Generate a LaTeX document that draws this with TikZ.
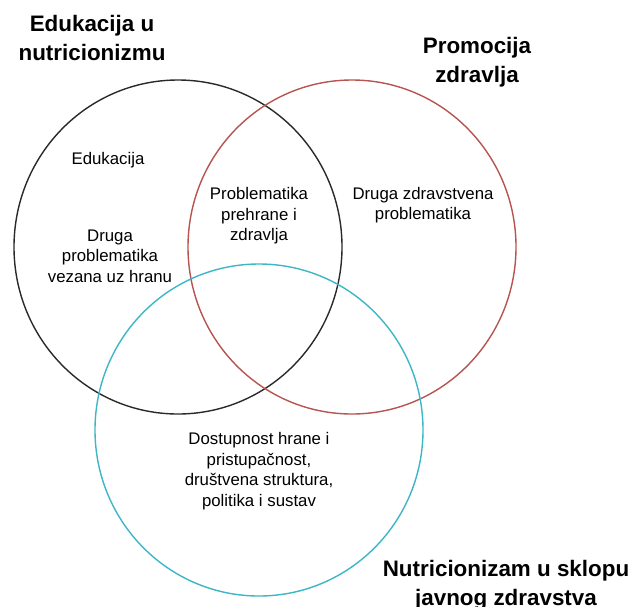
\documentclass[tikz,border=0pt]{standalone}
\usepackage{fontspec}
\setmainfont{Liberation Sans}
\definecolor{cblack}{HTML}{2A2A2A}
\definecolor{cred}{HTML}{B85450}
\definecolor{cteal}{HTML}{3DB6C6}
\begin{document}
\begin{tikzpicture}[x=1pt,y=-1pt,
  ring/.style={line width=1.4pt},
  title/.style={align=center,inner sep=0pt,font=\fontsize{22.4}{29}\selectfont\bfseries},
  label/.style={align=center,inner sep=0pt,font=\fontsize{16.8}{20.6}\selectfont}]
\useasboundingbox (0,0) rectangle (632,606);
\fill[white] (0,0) rectangle (632,606);
\draw[ring,cblack] (178,247) ellipse [x radius=164pt, y radius=167pt];
\draw[ring,cred] (352,247) ellipse [x radius=164pt, y radius=167pt];
\draw[ring,cteal] (259,430) ellipse [x radius=164pt, y radius=166pt];
\node[title] (t1) at (92,38) {Edukacija u\\nutricionizmu};
\node[title] (t2) at (477,62) {Promocija\\zdravlja};
\node[title] (t3) at (506,585) {Nutricionizam u sklopu\\javnog zdravstva};
\node[label] (a) at (108,160) {Edukacija};
\node[label] (b) at (110,256) {Druga\\problematika\\vezana uz hranu};
\node[label] (c) at (259,216) {Problematika\\prehrane i\\zdravlja};
\node[label] (d) at (423,205) {Druga zdravstvena\\problematika};
\node[label] (e) at (259,471) {Dostupnost hrane i\\pristupačnost,\\društvena struktura,\\politika i sustav};
\end{tikzpicture}
\end{document}
